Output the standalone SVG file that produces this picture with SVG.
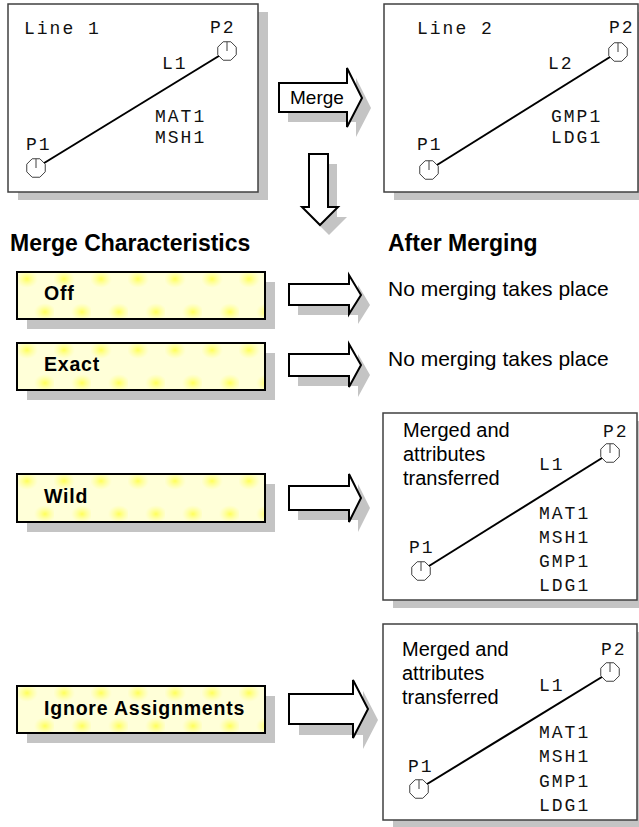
<svg xmlns="http://www.w3.org/2000/svg" xmlns:xlink="http://www.w3.org/1999/xlink" width="639" height="827" viewBox="0 0 639 827">
<style>
.panel{fill:#fff;stroke:#404040;stroke-width:1.5}
.shadow{fill:#c4c4c4;stroke:none}
.mono{font-family:"Liberation Mono","Courier New",monospace;font-size:18px;letter-spacing:2px;fill:#111}
.sans{font-family:"Liberation Sans",Arial,sans-serif;font-size:20px;fill:#000}
.res{font-family:"Liberation Sans",Arial,sans-serif;font-size:21px;fill:#000}
.head{font-family:"Liberation Sans",Arial,sans-serif;font-size:23px;font-weight:bold;fill:#000}
.lbl{font-family:"Liberation Sans",Arial,sans-serif;font-size:19.5px;font-weight:bold;letter-spacing:0.8px;fill:#000}
.barrow{fill:#fff;stroke:#000;stroke-width:2;stroke-linejoin:miter}
.line{stroke:#000;stroke-width:2}
.oct{fill:#fff;stroke:#404040;stroke-width:1}
</style>
<defs>
<radialGradient id="spot">
<stop offset="0" stop-color="#ffff40" stop-opacity="0.85"/>
<stop offset="1" stop-color="#ffff80" stop-opacity="0"/>
</radialGradient>
<pattern id="spots" patternUnits="objectBoundingBox" width="0.1492" height="1">
<rect width="37" height="48" fill="#ffffd8"/>
<ellipse cx="10" cy="7" rx="11" ry="9" fill="url(#spot)"/>
<ellipse cx="28" cy="40" rx="11" ry="9" fill="url(#spot)"/>
</pattern>
<symbol id="pt" overflow="visible">
<polygon class="oct" points="9.24,-3.83 3.83,-9.24 -3.83,-9.24 -9.24,-3.83 -9.24,3.83 -3.83,9.24 3.83,9.24 9.24,3.83"/>
<line x1="0" y1="0" x2="0" y2="-9.24" stroke="#404040" stroke-width="1"/>
</symbol>
</defs>
<rect width="639" height="827" fill="#fff"/>

<g id="panel-line1">
<rect class="shadow" x="18" y="12" width="250" height="188"/>
<rect class="panel" x="8" y="4" width="250" height="188"/>
<line class="line" x1="36" y1="168" x2="227" y2="51"/>
<use xlink:href="#pt" x="36" y="168"/>
<use xlink:href="#pt" x="227" y="51"/>
<text class="mono" x="24" y="34">Line 1</text>
<text class="mono" x="210" y="33">P2</text>
<text class="mono" x="162" y="69">L1</text>
<text class="mono" x="155" y="122">MAT1</text>
<text class="mono" x="155" y="143">MSH1</text>
<text class="mono" x="26" y="150">P1</text>
</g>

<g id="panel-line2">
<rect class="shadow" x="394" y="12" width="260" height="188"/>
<rect class="panel" x="384" y="4" width="254" height="188"/>
<line class="line" x1="429" y1="170" x2="618" y2="52"/>
<use xlink:href="#pt" x="429" y="170"/>
<use xlink:href="#pt" x="618" y="52"/>
<text class="mono" x="417" y="34">Line 2</text>
<text class="mono" x="609" y="33">P2</text>
<text class="mono" x="548" y="69">L2</text>
<text class="mono" x="551" y="122">GMP1</text>
<text class="mono" x="551" y="143">LDG1</text>
<text class="mono" x="417" y="150">P1</text>
</g>

<g id="headers">
<text class="head" x="10" y="251">Merge Characteristics</text>
<text class="head" x="388" y="251">After Merging</text>
</g>

<g id="box-off">
<rect class="shadow" x="27" y="282" width="248" height="47"/>
<rect x="17" y="272" width="248" height="47" fill="url(#spots)" stroke="#000" stroke-width="2"/>
<text class="lbl" x="44" y="300">Off</text>
</g>
<g id="box-exact">
<rect class="shadow" x="27" y="353" width="248" height="47"/>
<rect x="17" y="343" width="248" height="47" fill="url(#spots)" stroke="#000" stroke-width="2"/>
<text class="lbl" x="44" y="371">Exact</text>
</g>
<g id="box-wild">
<rect class="shadow" x="27" y="484" width="248" height="48"/>
<rect x="17" y="474" width="248" height="48" fill="url(#spots)" stroke="#000" stroke-width="2"/>
<text class="lbl" x="44" y="503">Wild</text>
</g>
<g id="box-ignore">
<rect class="shadow" x="27" y="696" width="248" height="47"/>
<rect x="17" y="686" width="248" height="47" fill="url(#spots)" stroke="#000" stroke-width="2"/>
<text class="lbl" x="44" y="715">Ignore Assignments</text>
</g>

<g id="result-off">
<text class="res" x="388" y="296">No merging takes place</text>
</g>
<g id="result-exact">
<text class="res" x="388" y="366">No merging takes place</text>
</g>

<g id="panel-wild">
<rect class="shadow" x="393" y="421" width="260" height="187"/>
<rect class="panel" x="383" y="413" width="254" height="187"/>
<line class="line" x1="421" y1="571" x2="610" y2="453"/>
<use xlink:href="#pt" x="421" y="571"/>
<use xlink:href="#pt" x="610" y="453"/>
<text class="sans" x="403" y="437">Merged and</text>
<text class="sans" x="403" y="461">attributes</text>
<text class="sans" x="403" y="485">transferred</text>
<text class="mono" x="603" y="437">P2</text>
<text class="mono" x="539" y="470">L1</text>
<text class="mono" x="539" y="519">MAT1</text>
<text class="mono" x="539" y="543">MSH1</text>
<text class="mono" x="539" y="567">GMP1</text>
<text class="mono" x="539" y="591">LDG1</text>
<text class="mono" x="409" y="553">P1</text>
</g>

<g id="panel-ignore">
<rect class="shadow" x="393" y="632" width="260" height="196"/>
<rect class="panel" x="383" y="624" width="254" height="196"/>
<line class="line" x1="419" y1="789" x2="610" y2="672"/>
<use xlink:href="#pt" x="419" y="789"/>
<use xlink:href="#pt" x="610" y="672"/>
<text class="sans" x="402" y="656">Merged and</text>
<text class="sans" x="402" y="680">attributes</text>
<text class="sans" x="402" y="704">transferred</text>
<text class="mono" x="601" y="655">P2</text>
<text class="mono" x="539" y="691">L1</text>
<text class="mono" x="539" y="738">MAT1</text>
<text class="mono" x="539" y="762">MSH1</text>
<text class="mono" x="539" y="787">GMP1</text>
<text class="mono" x="539" y="811">LDG1</text>
<text class="mono" x="408" y="772">P1</text>
</g>

<g id="connectors">
<g id="arrow-merge">
<polygon class="shadow" transform="translate(9,10)" points="279,83 347,83 347,68 362,98 347,127 347,112 279,112"/>
<polygon class="barrow" points="279,83 347,83 347,68 362,98 347,127 347,112 279,112"/>
<text x="290" y="104" style="font-family:'Liberation Sans',Arial,sans-serif;font-size:19px;fill:#000">Merge</text>
</g>
<g id="arrow-down">
<polygon class="shadow" transform="translate(9,10)" points="309,154 328,154 328,207 338,207 320,225 302,207 309,207"/>
<polygon class="barrow" points="309,154 328,154 328,207 338,207 320,225 302,207 309,207"/>
</g>
<g id="arrow-off">
<polygon class="shadow" transform="translate(9,10)" points="289,284 349,284 349,275 361,295 349,314 349,305 289,305"/>
<polygon class="barrow" points="289,284 349,284 349,275 361,295 349,314 349,305 289,305"/>
</g>
<g id="arrow-exact">
<polygon class="shadow" transform="translate(9,10)" points="289,354 349,354 349,344 361,365 349,387 349,376 289,376"/>
<polygon class="barrow" points="289,354 349,354 349,344 361,365 349,387 349,376 289,376"/>
</g>
<g id="arrow-wild">
<polygon class="shadow" transform="translate(9,10)" points="289,486 349,486 349,474 361,498 349,522 349,510 289,510"/>
<polygon class="barrow" points="289,486 349,486 349,474 361,498 349,522 349,510 289,510"/>
</g>
<g id="arrow-ignore">
<polygon class="shadow" transform="translate(10,11)" points="289,694 353,694 353,680 368,709 353,738 353,724 289,724"/>
<polygon class="barrow" points="289,694 353,694 353,680 368,709 353,738 353,724 289,724"/>
</g>
</g>
</svg>
